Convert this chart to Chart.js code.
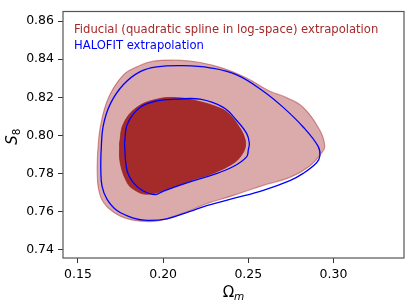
<!DOCTYPE html>
<html>
<head>
	<meta charset="utf-8" />
	<title>Omega_m - S8 contours</title>
	<script src="https://cdn.jsdelivr.net/npm/chart.js@4.4.0/dist/chart.umd.min.js"></script>
	<style>
		html, body { margin: 0; padding: 0; background: #fff; }
		#wrap { width: 411px; height: 308px; }
	</style>
</head>
<body>
<div id="wrap"><canvas id="contours"></canvas></div>
<script>

// contour vertices, (Omega_m, S8) pairs going round each loop
var fidOuterOm = [0.1615, 0.1631, 0.1679, 0.1767, 0.1846, 0.1943, 0.2080, 0.2217, 0.2353, 0.2490, 0.2627, 0.2725, 0.2822, 0.2920, 0.2949, 0.2930, 0.2861, 0.2744, 0.2588, 0.2412, 0.2256, 0.2158, 0.1982, 0.1884, 0.1787, 0.1709, 0.1650, 0.1621, 0.1613]
var fidOuterS8 = [0.7907, 0.8044, 0.8198, 0.8318, 0.8360, 0.8390, 0.8395, 0.8383, 0.8352, 0.8301, 0.8232, 0.8198, 0.8147, 0.8027, 0.7942, 0.7907, 0.7839, 0.7779, 0.7737, 0.7684, 0.7641, 0.7605, 0.7552, 0.7548, 0.7562, 0.7596, 0.7647, 0.7716, 0.7805]

var fidInnerOm = [0.1744, 0.1767, 0.1846, 0.1963, 0.2080, 0.2197, 0.2334, 0.2392, 0.2445, 0.2475, 0.2483, 0.2457, 0.2412, 0.2295, 0.2177, 0.2022, 0.1904, 0.1826, 0.1787, 0.1748]
var fidInnerS8 = [0.7959, 0.8061, 0.8147, 0.8190, 0.8198, 0.8181, 0.8143, 0.8108, 0.8046, 0.7995, 0.7943, 0.7892, 0.7853, 0.7801, 0.7767, 0.7716, 0.7690, 0.7716, 0.7754, 0.7856]

var haloOuterOm = [0.1635, 0.1647, 0.1689, 0.1767, 0.1865, 0.1963, 0.2119, 0.2275, 0.2432, 0.2588, 0.2705, 0.2822, 0.2910, 0.2920, 0.2901, 0.2822, 0.2744, 0.2588, 0.2412, 0.2256, 0.2158, 0.2022, 0.1904, 0.1826, 0.1729, 0.1670, 0.1641, 0.1634]
var haloOuterS8 = [0.7907, 0.8044, 0.8164, 0.8267, 0.8335, 0.8360, 0.8366, 0.8355, 0.8318, 0.8232, 0.8147, 0.8044, 0.7942, 0.7891, 0.7856, 0.7800, 0.7762, 0.7711, 0.7668, 0.7630, 0.7600, 0.7561, 0.7553, 0.7565, 0.7605, 0.7665, 0.7733, 0.7820]

var haloInnerOm = [0.1773, 0.1791, 0.1865, 0.1963, 0.2080, 0.2217, 0.2353, 0.2432, 0.2490, 0.2506, 0.2500, 0.2490, 0.2412, 0.2295, 0.2139, 0.2002, 0.1953, 0.1884, 0.1826, 0.1787]
var haloInnerS8 = [0.7959, 0.8061, 0.8147, 0.8181, 0.8190, 0.8190, 0.8147, 0.8078, 0.8010, 0.7959, 0.7924, 0.7887, 0.7836, 0.7793, 0.7750, 0.7707, 0.7688, 0.7707, 0.7750, 0.7819]

var omTicks = [0.15, 0.20, 0.25, 0.30]
var s8Ticks = [0.74, 0.76, 0.78, 0.80, 0.82, 0.84, 0.86]

var legendLabels = ['Fiducial (quadratic spline in log-space) extrapolation', 'HALOFIT extrapolation']
var legendColors = ['#a52a2a', '#0000ff']

function loop(xs, ys) {
	var pts = []
	for (var i = 0; i < xs.length; i++) pts.push({x: xs[i], y: ys[i]})
	pts.push(pts[0])  // close it
	return pts
}

var font = '"DejaVu Sans", sans-serif'

// legend sits inside the axes, top left, text only
var insideLegend = {
	id: 'insideLegend',
	afterDraw: function(chart) {
		var ctx = chart.ctx, a = chart.chartArea
		ctx.save()
		ctx.font = '11.6px ' + font
		ctx.textAlign = 'left'
		ctx.textBaseline = 'middle'
		for (var i = 0; i < legendLabels.length; i++) {
			ctx.fillStyle = legendColors[i]
			ctx.fillText(legendLabels[i], a.left + 11, a.top + 18 + i * 16.6)
		}
		ctx.restore()
	}
}

// box round the plot + axis titles with subscripts
var frameAndTitles = {
	id: 'frameAndTitles',
	afterDraw: function(chart) {
		var ctx = chart.ctx, a = chart.chartArea
		ctx.save()
		ctx.strokeStyle = '#555'
		ctx.lineWidth = 1.2
		ctx.strokeRect(a.left, a.top, a.right - a.left, a.bottom - a.top)

		ctx.fillStyle = '#000'
		ctx.textBaseline = 'alphabetic'
		ctx.textAlign = 'left'

		// x title: Omega_m
		var big = '15px ' + font, small = 'italic 10.5px ' + font
		ctx.font = big
		var w1 = ctx.measureText('Ω').width
		ctx.font = small
		var w2 = ctx.measureText('m').width
		var x0 = (a.left + a.right) / 2 - (w1 + w2) / 2
		ctx.font = big
		ctx.fillText('Ω', x0, 297)
		ctx.font = small
		ctx.fillText('m', x0 + w1, 300)

		// y title: S_8, rotated
		ctx.translate(17, (a.top + a.bottom) / 2 + 2)
		ctx.rotate(-Math.PI / 2)
		ctx.font = 'italic 15px ' + font
		var s1 = ctx.measureText('S').width
		ctx.font = '10.5px ' + font
		var s2 = ctx.measureText('8').width
		var y0 = -(s1 + s2) / 2
		ctx.font = 'italic 15px ' + font
		ctx.fillText('S', y0, 0)
		ctx.font = '10.5px ' + font
		ctx.fillText('8', y0 + s1, 3)
		ctx.restore()
	}
}

var tickStyle = {color: '#000', font: {family: font, size: 12.5}, padding: 4}
var gridStyle = {drawOnChartArea: false, drawTicks: true, tickLength: 5, color: '#333', lineWidth: 1}

new Chart('contours', {
	type: 'scatter',
	data: {
		datasets: [{
			label: 'HALOFIT inner',
			data: loop(haloInnerOm, haloInnerS8),
			showLine: true, fill: false, tension: 0.4,
			borderColor: '#0000ff', borderWidth: 1.3, pointRadius: 0
		}, {
			label: 'HALOFIT outer',
			data: loop(haloOuterOm, haloOuterS8),
			showLine: true, fill: false, tension: 0.4,
			borderColor: '#0000ff', borderWidth: 1.3, pointRadius: 0
		}, {
			label: 'Fiducial inner',
			data: loop(fidInnerOm, fidInnerS8),
			showLine: true, fill: 'shape', tension: 0.4, indexAxis: 'y',
			backgroundColor: '#a52a2a', borderColor: 'rgba(150,35,35,0.8)', borderWidth: 1, pointRadius: 0
		}, {
			label: 'Fiducial outer',
			data: loop(fidOuterOm, fidOuterS8),
			showLine: true, fill: 'shape', tension: 0.4, indexAxis: 'y',
			backgroundColor: 'rgba(165,42,42,0.4)', borderColor: 'rgba(165,42,42,0.45)', borderWidth: 1.2, pointRadius: 0
		}]
	},
	options: {
		responsive: true,
		maintainAspectRatio: false,
		animation: false,
		layout: {padding: {top: 5, right: 7, left: 0, bottom: 0}},
		plugins: {legend: {display: false}, tooltip: {enabled: false}},
		scales: {
			x: {
				type: 'linear', min: 0.1412, max: 0.3414,
				afterBuildTicks: function(s) { s.ticks = omTicks.map(function(v) { return {value: v} }) },
				afterFit: function(s) { s.height = 50 },
				ticks: Object.assign({callback: function(v) { return v.toFixed(2) }, maxRotation: 0}, tickStyle),
				grid: gridStyle,
				border: {display: false}
			},
			y: {
				type: 'linear', min: 0.7355, max: 0.8651,
				afterBuildTicks: function(s) { s.ticks = s8Ticks.map(function(v) { return {value: v} }) },
				afterFit: function(s) { s.width = 63 },
				ticks: Object.assign({callback: function(v) { return v.toFixed(2) }}, tickStyle),
				grid: gridStyle,
				border: {display: false}
			}
		}
	},
	plugins: [insideLegend, frameAndTitles]
})
</script>
</body>
</html>
